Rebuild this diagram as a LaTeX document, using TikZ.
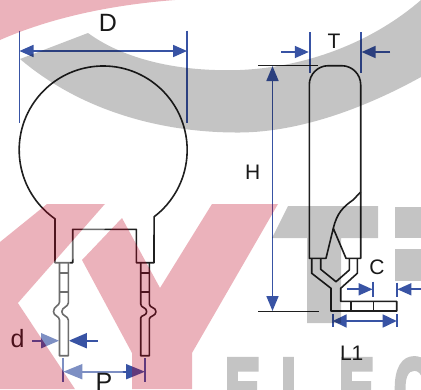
\documentclass[tikz,border=0pt]{standalone}
\usepackage{fontspec}
\setmainfont{Liberation Sans}
\newfontfamily\logofont[FakeBold=6]{Liberation Sans Bold}
\usetikzlibrary{arrows.meta}
\definecolor{dimblue}{RGB}{56,83,164}
\definecolor{logored}{RGB}{192,0,32}
\definecolor{logogray}{RGB}{196,196,196}
\begin{document}
\begin{tikzpicture}[x=1pt, y=-1pt]
			\tikzstyle{every node}=[align=center, inner sep=0pt]
			\tikzstyle{part}=[line width=1.6pt, black!88, line join=round]
			\tikzstyle{dimline}=[line width=1.7pt, dimblue]
			\tikzstyle{dimtip}=[line width=1.7pt, dimblue, arrows={-Triangle[length=14pt, width=12pt]}]
			\tikzstyle{dimbig}=[line width=1.7pt, dimblue, arrows={-Triangle[length=18pt, width=15pt]}]
			\tikzstyle{bigtag}=[font=\fontsize{25}{25}\selectfont, black!90]
			\tikzstyle{smalltag}=[font=\fontsize{21}{21}\selectfont, black!90]
			\tikzstyle{letter}=[anchor=base west, xscale=0.62, text=logogray, font=\logofont\fontsize{85}{85}\selectfont]
				\useasboundingbox (0,0) rectangle (421,389);
				\clip (0,0) rectangle (421,389);
				\fill[white] (0,0) rectangle (421,389);

				\node[letter] (e1) at (225,418) {E};
				\node[letter] (l1) at (281,418) {L};
				\node[letter] (e2) at (339,418) {E};
				\node[letter] (c1) at (394,418) {C};

				\draw[part] (55,262.7) -- (55,218.8) arc[start angle=125, end angle=412.7, radius=84] -- (154,262.7) -- (136.3,262.7) -- (136.3,229.3) -- (72.7,229.3) -- (72.7,262.7) -- cycle;
				\draw[part] (59.5,262.7) -- (59.5,302) .. controls (59.5,306) and (53.5,306) .. (53.5,311.7) .. controls (53.5,316) and (59.5,316) .. (59.5,320) -- (59.5,355.7) -- (68.3,355.7) -- (68.3,320) .. controls (68.3,316) and (61.8,316) .. (61.8,311.7) .. controls (61.8,307) and (68.3,307) .. (68.3,303) -- (68.3,262.7);
				\draw[part] (59.5,272.7) -- (68.3,272.7) (59.5,291.7) -- (68.3,291.7);
				\draw[part] (140.7,262.7) -- (140.7,304) .. controls (140.7,308) and (146.7,307) .. (146.7,311.7) .. controls (146.7,316) and (140.7,315) .. (140.7,318) -- (140.7,355.7) -- (149.3,355.7) -- (149.3,319) .. controls (149.3,316) and (156,316) .. (156,311.7) .. controls (156,307) and (149.3,308) .. (149.3,304) -- (149.3,262.7);
				\draw[part] (140.7,272.7) -- (149.3,272.7) (140.7,291.7) -- (149.3,291.7);

				\draw[part] (309.3,258.3) [rounded corners=19pt] -- (309.3,65.7) -- (360.7,65.7) [sharp corners] -- (360.7,258.3) -- (346,258.3) -- (333.3,228.3) -- (326,258.3) -- cycle;
				\draw[part] (333.3,228.3) .. controls (337,213) and (343,207) .. (353,200) -- (360.7,192);
				\draw[part] (311.7,258.3) -- (311.7,273.3) -- (331,288.3) -- (331,311) -- (396.7,311) -- (396.7,301.3) -- (340.7,301.3) -- (340.7,288.3) -- (357.3,273.3) -- (357.3,258.3);
				\draw[part] (320.7,258.3) -- (320.7,269.3) -- (336,281.7) -- (349.3,270) -- (349.3,258.3);
				\draw[part] (350.7,301.3) -- (350.7,311) (373.3,301.3) -- (373.3,311);

				\coordinate (dtl) at (19.5,30.7);
				\coordinate (dbl) at (19.5,123);
				\coordinate (dtr) at (187,30.7);
				\coordinate (dbr) at (187,123);
				\coordinate (dal) at (19.5,51);
				\coordinate (dar) at (187,51);
				\node[bigtag] (dia) at (108,23) {D};
				\draw[dimline] (dtl) -- (dbl);
				\draw[dimline] (dtr) -- (dbr);
				\draw[dimtip, arrows={Triangle[length=14pt, width=12pt]-Triangle[length=14pt, width=12pt]}] (dal) -- (dar);

				\coordinate (ttl) at (309.7,32);
				\coordinate (tbl) at (309.7,73);
				\coordinate (ttr) at (360.7,32);
				\coordinate (tbr) at (360.7,73);
				\coordinate (tal) at (281,52);
				\coordinate (tel) at (308.8,52);
				\coordinate (tar) at (390,52);
				\coordinate (ter) at (361.6,52);
				\node[smalltag] (thk) at (334,41) {T};
				\draw[dimline] (ttl) -- (tbl);
				\draw[dimline] (ttr) -- (tbr);
				\draw[dimtip] (tal) -- (tel);
				\draw[dimtip] (tar) -- (ter);

				\coordinate (htl) at (258.3,65.3);
				\coordinate (htr) at (318,65.3);
				\coordinate (hbl) at (258.3,311.3);
				\coordinate (hbr) at (318.7,311.3);
				\coordinate (hat) at (272.5,66);
				\coordinate (hab) at (272.5,311);
				\node[smalltag] (hgt) at (252.7,172.5) {H};
				\draw[part] (htl) -- (htr);
				\draw[part] (hbl) -- (hbr);
				\draw[dimtip, arrows={Triangle[length=15pt, width=12pt]-Triangle[length=15pt, width=12pt]}] (hat) -- (hab);

				\coordinate (ctl) at (373.3,281.7);
				\coordinate (cbl) at (373.3,297.3);
				\coordinate (ctr) at (396.7,282.7);
				\coordinate (cbr) at (396.7,297.3);
				\coordinate (cal) at (346.7,289.3);
				\coordinate (cel) at (372.6,289.3);
				\coordinate (car) at (421,289.3);
				\coordinate (cer) at (397.4,289.3);
				\node[smalltag] (cgap) at (377,267.3) {C};
				\draw[dimline] (ctl) -- (cbl);
				\draw[dimline] (ctr) -- (cbr);
				\draw[dimtip] (cal) -- (cel);
				\draw[dimtip] (car) -- (cer);

				\coordinate (ltl) at (332.7,314);
				\coordinate (lbl) at (332.7,327.3);
				\coordinate (ltr) at (396.7,314);
				\coordinate (lbr) at (396.7,327.3);
				\coordinate (lal) at (332.7,321);
				\coordinate (lar) at (396.7,321);
				\node[smalltag] (foot) at (351.7,353.3) {L1};
				\draw[dimline] (ltl) -- (lbl);
				\draw[dimline] (ltr) -- (lbr);
				\draw[dimtip, arrows={Triangle[length=14pt, width=13pt]-Triangle[length=14pt, width=13pt]}] (lal) -- (lar);

				\coordinate (wal) at (32,340.7);
				\coordinate (wel) at (59,340.7);
				\coordinate (war) at (97.7,340.7);
				\coordinate (wer) at (68.8,340.7);
				\node[bigtag] (wire) at (17.5,338.5) {d};
				\draw[dimbig] (wal) -- (wel);
				\draw[dimbig] (war) -- (wer);

				\coordinate (ptl) at (63.3,358);
				\coordinate (pbl) at (63.3,381.7);
				\coordinate (ptr) at (145,358);
				\coordinate (pbr) at (145,381.7);
				\coordinate (pal) at (63.3,371.7);
				\coordinate (par) at (145,371.7);
				\draw[dimline] (ptl) -- (pbl);
				\draw[dimline] (ptr) -- (pbr);
				\draw[dimbig, arrows={Triangle[length=19pt, width=15pt]-Triangle[length=19pt, width=15pt]}] (pal) -- (par);

				\fill[logored, fill opacity=0.3] (0,40) .. controls (50,18) and (110,5) .. (175,0) -- (0,0) -- cycle;
				\fill[black, fill opacity=0.23] (20,59) -- (88,33) .. controls (125,60) and (180,72) .. (240,70) .. controls (310,67) and (375,40) .. (421,0) -- (421,77) .. controls (365,108) and (300,132) .. (240,132.5) .. controls (160,133) and (80,110) .. (20,59) -- cycle;
				\fill[logored, fill opacity=0.3] (0,242) -- (47,204) -- (105,204) -- (18,303) -- (75,389) -- (0,389) -- cycle;
				\fill[logored, fill opacity=0.3] (82,260) -- (122,218) -- (160,288) -- (212,204) -- (278,204) -- (192,353) -- (192,389) -- (132,389) -- (132,353) -- cycle;
				\fill[white, fill opacity=0.35] (105,204) -- (18,303) -- (75,389) -- (130,389) -- (120,365) -- (70,358) -- (70,262) -- (105,229) -- cycle;
				\fill[black, fill opacity=0.23] (288,206) -- (378,206) -- (378,238) -- (341,238) -- (341,323) -- (307,323) -- (307,238) -- (272,238) -- cycle;
				\fill[black, fill opacity=0.23] (395,207) rectangle (421,238);
				\fill[black, fill opacity=0.23] (395,249) rectangle (421,281);

				\node[bigtag] (pitch) at (104,382) {P};
			\end{tikzpicture}
\end{document}
